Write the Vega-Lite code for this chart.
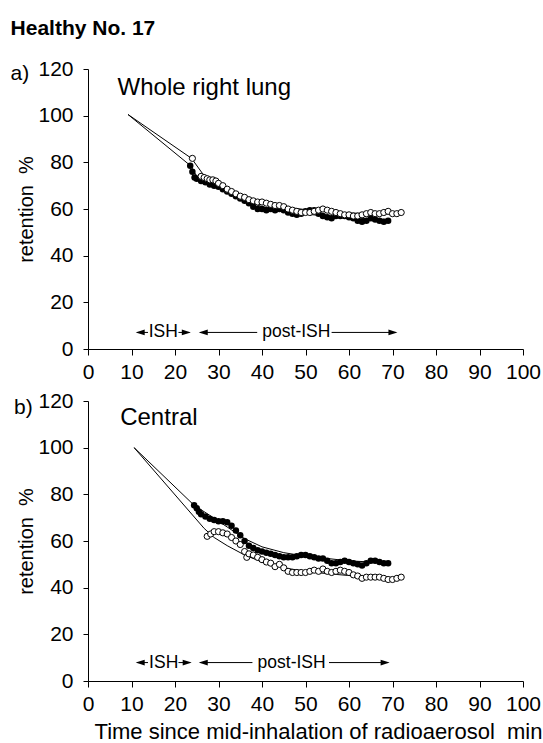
{
  "$schema": "https://vega.github.io/schema/vega-lite/v6.json",
  "padding": {"left": 10, "top": 18, "right": 5, "bottom": 5},
  "background": "white",
  "title": {"text": "Healthy No. 17", "anchor": "start", "fontSize": 21, "fontWeight": "bold", "font": "Liberation Sans", "color": "black", "offset": 19},
  "config": {
    "font": "Liberation Sans",
    "view": {"stroke": null},
    "axis": {"grid": false, "domainColor": "black", "tickColor": "black", "labelColor": "black", "titleColor": "black", "labelFontSize": 21, "labelFont": "Liberation Sans", "titleFont": "Liberation Sans", "titleFontWeight": "normal", "labelFlush": false, "tickSize": 6, "domainWidth": 1, "tickWidth": 1, "labelOverlap": false}
  },
  "datasets": {
    "pts": [
      {"p":"a","s":"c","t":23.5,"r":78.5},{"p":"a","s":"c","t":24,"r":76},{"p":"a","s":"c","t":24.5,"r":73.5},{"p":"a","s":"c","t":25,"r":73},{"p":"a","s":"c","t":26,"r":72},{"p":"a","s":"c","t":27,"r":71.5},{"p":"a","s":"c","t":28,"r":70.5},{"p":"a","s":"c","t":29,"r":70},{"p":"a","s":"c","t":30,"r":69.5},{"p":"a","s":"c","t":31,"r":68.5},{"p":"a","s":"c","t":32,"r":67.5},{"p":"a","s":"c","t":33,"r":66.5},{"p":"a","s":"c","t":34,"r":65.5},{"p":"a","s":"c","t":35,"r":64.5},{"p":"a","s":"c","t":36,"r":63.5},{"p":"a","s":"c","t":37,"r":62.5},{"p":"a","s":"c","t":38,"r":61},{"p":"a","s":"c","t":39,"r":60},{"p":"a","s":"c","t":40,"r":60},{"p":"a","s":"c","t":41,"r":59.5},{"p":"a","s":"c","t":42,"r":60},{"p":"a","s":"c","t":43,"r":59.5},{"p":"a","s":"c","t":44,"r":60},{"p":"a","s":"c","t":45,"r":59.5},{"p":"a","s":"c","t":46,"r":58.5},{"p":"a","s":"c","t":47,"r":58},{"p":"a","s":"c","t":48,"r":57.5},{"p":"a","s":"c","t":49,"r":58},{"p":"a","s":"c","t":50,"r":59},{"p":"a","s":"c","t":51,"r":59.5},{"p":"a","s":"c","t":52,"r":59.5},{"p":"a","s":"c","t":53,"r":58},{"p":"a","s":"c","t":54,"r":57},{"p":"a","s":"c","t":55,"r":56.5},{"p":"a","s":"c","t":56,"r":56},{"p":"a","s":"c","t":57,"r":57},{"p":"a","s":"c","t":58,"r":57},{"p":"a","s":"c","t":59,"r":57},{"p":"a","s":"c","t":60,"r":56.5},{"p":"a","s":"c","t":61,"r":56},{"p":"a","s":"c","t":62,"r":55},{"p":"a","s":"c","t":63,"r":54.5},{"p":"a","s":"c","t":64,"r":55},{"p":"a","s":"c","t":65,"r":56},{"p":"a","s":"c","t":66,"r":55.5},{"p":"a","s":"c","t":67,"r":55},{"p":"a","s":"c","t":68,"r":54.5},{"p":"a","s":"c","t":69,"r":55},
      {"p":"a","s":"o","t":24,"r":81.7},{"p":"a","s":"o","t":26,"r":74},{"p":"a","s":"o","t":26.7,"r":73.5},{"p":"a","s":"o","t":27.4,"r":73},{"p":"a","s":"o","t":28,"r":72.5},{"p":"a","s":"o","t":28.7,"r":72.5},{"p":"a","s":"o","t":29.4,"r":72},{"p":"a","s":"o","t":30,"r":71},{"p":"a","s":"o","t":31,"r":70},{"p":"a","s":"o","t":32,"r":68.5},{"p":"a","s":"o","t":33,"r":67.5},{"p":"a","s":"o","t":34,"r":66.5},{"p":"a","s":"o","t":35,"r":65.5},{"p":"a","s":"o","t":36,"r":65},{"p":"a","s":"o","t":37,"r":64},{"p":"a","s":"o","t":38,"r":63.5},{"p":"a","s":"o","t":39,"r":63},{"p":"a","s":"o","t":40,"r":63},{"p":"a","s":"o","t":41,"r":62.5},{"p":"a","s":"o","t":42,"r":62},{"p":"a","s":"o","t":43,"r":61.5},{"p":"a","s":"o","t":44,"r":61.5},{"p":"a","s":"o","t":45,"r":61},{"p":"a","s":"o","t":46,"r":60},{"p":"a","s":"o","t":47,"r":59.5},{"p":"a","s":"o","t":48,"r":59},{"p":"a","s":"o","t":49,"r":58.5},{"p":"a","s":"o","t":50,"r":58.5},{"p":"a","s":"o","t":51,"r":58.5},{"p":"a","s":"o","t":52,"r":59},{"p":"a","s":"o","t":53,"r":59.5},{"p":"a","s":"o","t":54,"r":60},{"p":"a","s":"o","t":55,"r":59.5},{"p":"a","s":"o","t":56,"r":59},{"p":"a","s":"o","t":57,"r":58.5},{"p":"a","s":"o","t":58,"r":58},{"p":"a","s":"o","t":59,"r":57.5},{"p":"a","s":"o","t":60,"r":57.5},{"p":"a","s":"o","t":61,"r":57},{"p":"a","s":"o","t":62,"r":57},{"p":"a","s":"o","t":63,"r":57.5},{"p":"a","s":"o","t":64,"r":58},{"p":"a","s":"o","t":65,"r":58.5},{"p":"a","s":"o","t":66,"r":58},{"p":"a","s":"o","t":67,"r":58},{"p":"a","s":"o","t":68,"r":58.5},{"p":"a","s":"o","t":69,"r":59},{"p":"a","s":"o","t":70,"r":58},{"p":"a","s":"o","t":71,"r":58},{"p":"a","s":"o","t":72,"r":58.5},
      {"p":"b","s":"c","t":24.4,"r":75.3},{"p":"b","s":"c","t":25,"r":74},{"p":"b","s":"c","t":25.5,"r":72.5},{"p":"b","s":"c","t":26,"r":71.5},{"p":"b","s":"c","t":27,"r":70.5},{"p":"b","s":"c","t":28,"r":69.5},{"p":"b","s":"c","t":29,"r":69},{"p":"b","s":"c","t":30,"r":68.5},{"p":"b","s":"c","t":31,"r":68.5},{"p":"b","s":"c","t":32,"r":68},{"p":"b","s":"c","t":33,"r":66.5},{"p":"b","s":"c","t":34,"r":64.5},{"p":"b","s":"c","t":35,"r":62.5},{"p":"b","s":"c","t":36,"r":60},{"p":"b","s":"c","t":37,"r":58},{"p":"b","s":"c","t":38,"r":57},{"p":"b","s":"c","t":39,"r":56},{"p":"b","s":"c","t":40,"r":55.5},{"p":"b","s":"c","t":41,"r":55},{"p":"b","s":"c","t":42,"r":54.5},{"p":"b","s":"c","t":43,"r":54},{"p":"b","s":"c","t":44,"r":53.5},{"p":"b","s":"c","t":45,"r":53},{"p":"b","s":"c","t":46,"r":53},{"p":"b","s":"c","t":47,"r":53},{"p":"b","s":"c","t":48,"r":53.5},{"p":"b","s":"c","t":49,"r":54},{"p":"b","s":"c","t":50,"r":54},{"p":"b","s":"c","t":51,"r":53.5},{"p":"b","s":"c","t":52,"r":53},{"p":"b","s":"c","t":53,"r":52.5},{"p":"b","s":"c","t":54,"r":52.5},{"p":"b","s":"c","t":55,"r":51.5},{"p":"b","s":"c","t":56,"r":50.5},{"p":"b","s":"c","t":57,"r":50.5},{"p":"b","s":"c","t":58,"r":51},{"p":"b","s":"c","t":59,"r":51.5},{"p":"b","s":"c","t":60,"r":51},{"p":"b","s":"c","t":61,"r":50.5},{"p":"b","s":"c","t":62,"r":50},{"p":"b","s":"c","t":63,"r":49.5},{"p":"b","s":"c","t":64,"r":50.5},{"p":"b","s":"c","t":65,"r":51.5},{"p":"b","s":"c","t":66,"r":51.5},{"p":"b","s":"c","t":67,"r":51},{"p":"b","s":"c","t":68,"r":50.5},{"p":"b","s":"c","t":69,"r":50.5},
      {"p":"b","s":"o","t":27.4,"r":62},{"p":"b","s":"o","t":28.2,"r":63},{"p":"b","s":"o","t":29,"r":64},{"p":"b","s":"o","t":30,"r":64},{"p":"b","s":"o","t":31,"r":63.5},{"p":"b","s":"o","t":32,"r":63},{"p":"b","s":"o","t":33,"r":61.5},{"p":"b","s":"o","t":34,"r":60},{"p":"b","s":"o","t":35,"r":58.5},{"p":"b","s":"o","t":36,"r":55.5},{"p":"b","s":"o","t":36.5,"r":53},{"p":"b","s":"o","t":37,"r":54.5},{"p":"b","s":"o","t":38,"r":54},{"p":"b","s":"o","t":39,"r":53},{"p":"b","s":"o","t":40,"r":52},{"p":"b","s":"o","t":41,"r":51},{"p":"b","s":"o","t":42,"r":50.5},{"p":"b","s":"o","t":43,"r":49},{"p":"b","s":"o","t":44,"r":50},{"p":"b","s":"o","t":45,"r":48.5},{"p":"b","s":"o","t":46,"r":47},{"p":"b","s":"o","t":47,"r":46.5},{"p":"b","s":"o","t":48,"r":46.5},{"p":"b","s":"o","t":49,"r":46.5},{"p":"b","s":"o","t":50,"r":46.5},{"p":"b","s":"o","t":51,"r":47},{"p":"b","s":"o","t":52,"r":47.5},{"p":"b","s":"o","t":53,"r":47},{"p":"b","s":"o","t":54,"r":48},{"p":"b","s":"o","t":55,"r":47},{"p":"b","s":"o","t":56,"r":46.5},{"p":"b","s":"o","t":57,"r":47},{"p":"b","s":"o","t":58,"r":47.5},{"p":"b","s":"o","t":59,"r":47},{"p":"b","s":"o","t":60,"r":46.5},{"p":"b","s":"o","t":61,"r":45.5},{"p":"b","s":"o","t":62,"r":45},{"p":"b","s":"o","t":63,"r":44},{"p":"b","s":"o","t":64,"r":44.5},{"p":"b","s":"o","t":65,"r":44.5},{"p":"b","s":"o","t":66,"r":44.5},{"p":"b","s":"o","t":67,"r":44.5},{"p":"b","s":"o","t":68,"r":44},{"p":"b","s":"o","t":69,"r":43.5},{"p":"b","s":"o","t":70,"r":43.5},{"p":"b","s":"o","t":71,"r":44},{"p":"b","s":"o","t":72,"r":44.5}
    ],
    "fit": [
      {"p":"a","s":"o","t":9.2,"r":100.5},{"p":"a","s":"o","t":23.8,"r":81.7},{"p":"a","s":"o","t":26.8,"r":74},{"p":"a","s":"o","t":30,"r":70.5},{"p":"a","s":"o","t":35,"r":66},{"p":"a","s":"o","t":40,"r":63},{"p":"a","s":"o","t":45,"r":61},{"p":"a","s":"o","t":50,"r":59.7},{"p":"a","s":"o","t":55,"r":58.8},{"p":"a","s":"o","t":60,"r":58.3},{"p":"a","s":"o","t":65,"r":58},{"p":"a","s":"o","t":72,"r":57.8},
      {"p":"a","s":"c","t":9.2,"r":100.5},{"p":"a","s":"c","t":23.6,"r":78.5},{"p":"a","s":"c","t":25,"r":74},{"p":"a","s":"c","t":30,"r":69.5},{"p":"a","s":"c","t":35,"r":64.5},{"p":"a","s":"c","t":40,"r":61},{"p":"a","s":"c","t":45,"r":59},{"p":"a","s":"c","t":50,"r":57.8},{"p":"a","s":"c","t":55,"r":57},{"p":"a","s":"c","t":60,"r":56.3},{"p":"a","s":"c","t":65,"r":55.8},{"p":"a","s":"c","t":69,"r":55.5},
      {"p":"b","s":"c","t":10.6,"r":100},{"p":"b","s":"c","t":24.4,"r":75.3},{"p":"b","s":"c","t":28,"r":71},{"p":"b","s":"c","t":32,"r":66},{"p":"b","s":"c","t":36,"r":61},{"p":"b","s":"c","t":40,"r":57.5},{"p":"b","s":"c","t":45,"r":55},{"p":"b","s":"c","t":50,"r":53.5},{"p":"b","s":"c","t":55,"r":52.5},{"p":"b","s":"c","t":60,"r":51.5},{"p":"b","s":"c","t":65,"r":51},{"p":"b","s":"c","t":69,"r":50.5},
      {"p":"b","s":"o","t":10.6,"r":100},{"p":"b","s":"o","t":26.7,"r":65.4},{"p":"b","s":"o","t":29,"r":61.5},{"p":"b","s":"o","t":32,"r":58},{"p":"b","s":"o","t":36,"r":54},{"p":"b","s":"o","t":40,"r":51},{"p":"b","s":"o","t":45,"r":48.5},{"p":"b","s":"o","t":50,"r":47},{"p":"b","s":"o","t":55,"r":46},{"p":"b","s":"o","t":60,"r":45.2},{"p":"b","s":"o","t":65,"r":44.7},{"p":"b","s":"o","t":72,"r":44.3}
    ],
    "seg": [
      {"p":"a","t":11.3,"t2":13.8,"r":7.1},{"p":"a","t":20.8,"t2":23.3,"r":7.1},{"p":"a","t":25.8,"t2":38.9,"r":7.1},{"p":"a","t":56,"t2":70.8,"r":7.1},
      {"p":"b","t":11.3,"t2":13.8,"r":7.9},{"p":"b","t":20.8,"t2":23.5,"r":7.9},{"p":"b","t":25.8,"t2":37.8,"r":7.9},{"p":"b","t":55.4,"t2":69,"r":7.9}
    ],
    "heads": [
      {"p":"a","d":"left","t":12,"r":7.1},{"p":"a","d":"right","t":22.6,"r":7.1},{"p":"a","d":"left","t":26.5,"r":7.1},{"p":"a","d":"right","t":70.1,"r":7.1},
      {"p":"b","d":"left","t":12,"r":7.9},{"p":"b","d":"right","t":22.8,"r":7.9},{"p":"b","d":"left","t":26.5,"r":7.9},{"p":"b","d":"right","t":68.3,"r":7.9}
    ],
    "notes": [
      {"p":"a","k":"phase","t":17.3,"r":7.1,"txt":"ISH"},{"p":"a","k":"phase","t":47.9,"r":7.1,"txt":"post-ISH"},
      {"p":"b","k":"phase","t":17.4,"r":7.9,"txt":"ISH"},{"p":"b","k":"phase","t":46.8,"r":7.9,"txt":"post-ISH"},
      {"p":"a","k":"region","t":6.8,"r":109,"txt":"Whole right lung"},{"p":"b","k":"region","t":7.4,"r":109.6,"txt":"Central"},
      {"p":"a","k":"panel","t":-17.8,"r":115.4,"txt":"a)"},{"p":"b","k":"panel","t":-17,"r":114.6,"txt":"b)"}
    ]
  },
  "vconcat": [
    {
      "width": 435, "height": 280,
      "encoding": {
        "x": {"field": "t", "type": "quantitative", "scale": {"domain": [0, 100], "nice": false}, "axis": {"values": [0,10,20,30,40,50,60,70,80,90,100], "title": null, "labelPadding": 6}},
        "y": {"field": "r", "type": "quantitative", "scale": {"domain": [0, 120], "nice": false}, "axis": {"values": [0,20,40,60,80,100,120], "title": "retention\u00a0 %", "titleFontSize": 20, "titleAngle": -90, "titleX": -62, "titleY": 140, "titleAlign": "center", "titleBaseline": "middle", "labelPadding": 10, "tickSize": 5}}
      },
      "layer": [
        {"data": {"name": "fit"}, "transform": [{"filter": "datum.p === 'a'"}], "mark": {"type": "line", "color": "black", "strokeWidth": 1}, "encoding": {"detail": {"field": "s"}, "order": {"field": "t"}}},
        {"data": {"name": "pts"}, "transform": [{"filter": "datum.p === 'a' && datum.s === 'c'"}], "mark": {"type": "point", "shape": "circle", "filled": true, "color": "black", "size": 42, "opacity": 1}},
        {"data": {"name": "pts"}, "transform": [{"filter": "datum.p === 'a' && datum.s === 'o'"}], "mark": {"type": "point", "shape": "circle", "filled": true, "fill": "white", "stroke": "black", "strokeWidth": 1, "size": 38, "opacity": 1}},
        {"data": {"name": "seg"}, "transform": [{"filter": "datum.p === 'a'"}], "mark": {"type": "rule", "color": "black", "strokeWidth": 1}, "encoding": {"x2": {"field": "t2"}}},
        {"data": {"name": "heads"}, "transform": [{"filter": "datum.p === 'a' && datum.d === 'left'"}], "mark": {"type": "point", "shape": "M-1,0L1,-0.63L1,0.63Z", "filled": true, "color": "black", "size": 81, "opacity": 1}},
        {"data": {"name": "heads"}, "transform": [{"filter": "datum.p === 'a' && datum.d === 'right'"}], "mark": {"type": "point", "shape": "M1,0L-1,-0.63L-1,0.63Z", "filled": true, "color": "black", "size": 81, "opacity": 1}},
        {"data": {"name": "notes"}, "transform": [{"filter": "datum.p === 'a' && datum.k === 'phase'"}], "mark": {"type": "text", "fontSize": 17.5, "align": "center", "baseline": "middle", "color": "black"}, "encoding": {"text": {"field": "txt"}}},
        {"data": {"name": "notes"}, "transform": [{"filter": "datum.p === 'a' && datum.k === 'region'"}], "mark": {"type": "text", "fontSize": 24, "align": "left", "baseline": "alphabetic", "color": "black"}, "encoding": {"text": {"field": "txt"}}},
        {"data": {"name": "notes"}, "transform": [{"filter": "datum.p === 'a' && datum.k === 'panel'"}], "mark": {"type": "text", "fontSize": 21, "align": "left", "baseline": "alphabetic", "color": "black"}, "encoding": {"text": {"field": "txt"}}}
      ]
    },
    {
      "width": 435, "height": 280,
      "encoding": {
        "x": {"field": "t", "type": "quantitative", "scale": {"domain": [0, 100], "nice": false}, "axis": {"values": [0,10,20,30,40,50,60,70,80,90,100], "title": "Time since mid-inhalation of radioaerosol \u00a0min", "titleFontSize": 22, "titleX": 230, "titleY": 57, "titleAlign": "center", "titleBaseline": "alphabetic", "labelPadding": 6}},
        "y": {"field": "r", "type": "quantitative", "scale": {"domain": [0, 120], "nice": false}, "axis": {"values": [0,20,40,60,80,100,120], "title": "retention\u00a0 %", "titleFontSize": 20, "titleAngle": -90, "titleX": -62, "titleY": 140, "titleAlign": "center", "titleBaseline": "middle", "labelPadding": 10, "tickSize": 5}}
      },
      "layer": [
        {"data": {"name": "fit"}, "transform": [{"filter": "datum.p === 'b'"}], "mark": {"type": "line", "color": "black", "strokeWidth": 1}, "encoding": {"detail": {"field": "s"}, "order": {"field": "t"}}},
        {"data": {"name": "pts"}, "transform": [{"filter": "datum.p === 'b' && datum.s === 'o'"}], "mark": {"type": "point", "shape": "circle", "filled": true, "fill": "white", "stroke": "black", "strokeWidth": 1, "size": 38, "opacity": 1}},
        {"data": {"name": "pts"}, "transform": [{"filter": "datum.p === 'b' && datum.s === 'c'"}], "mark": {"type": "point", "shape": "circle", "filled": true, "color": "black", "size": 42, "opacity": 1}},
        {"data": {"name": "seg"}, "transform": [{"filter": "datum.p === 'b'"}], "mark": {"type": "rule", "color": "black", "strokeWidth": 1}, "encoding": {"x2": {"field": "t2"}}},
        {"data": {"name": "heads"}, "transform": [{"filter": "datum.p === 'b' && datum.d === 'left'"}], "mark": {"type": "point", "shape": "M-1,0L1,-0.63L1,0.63Z", "filled": true, "color": "black", "size": 81, "opacity": 1}},
        {"data": {"name": "heads"}, "transform": [{"filter": "datum.p === 'b' && datum.d === 'right'"}], "mark": {"type": "point", "shape": "M1,0L-1,-0.63L-1,0.63Z", "filled": true, "color": "black", "size": 81, "opacity": 1}},
        {"data": {"name": "notes"}, "transform": [{"filter": "datum.p === 'b' && datum.k === 'phase'"}], "mark": {"type": "text", "fontSize": 17.5, "align": "center", "baseline": "middle", "color": "black"}, "encoding": {"text": {"field": "txt"}}},
        {"data": {"name": "notes"}, "transform": [{"filter": "datum.p === 'b' && datum.k === 'region'"}], "mark": {"type": "text", "fontSize": 24, "align": "left", "baseline": "alphabetic", "color": "black"}, "encoding": {"text": {"field": "txt"}}},
        {"data": {"name": "notes"}, "transform": [{"filter": "datum.p === 'b' && datum.k === 'panel'"}], "mark": {"type": "text", "fontSize": 21, "align": "left", "baseline": "alphabetic", "color": "black"}, "encoding": {"text": {"field": "txt"}}}
      ]
    }
  ],
  "spacing": 52,
  "bounds": "flush"
}
